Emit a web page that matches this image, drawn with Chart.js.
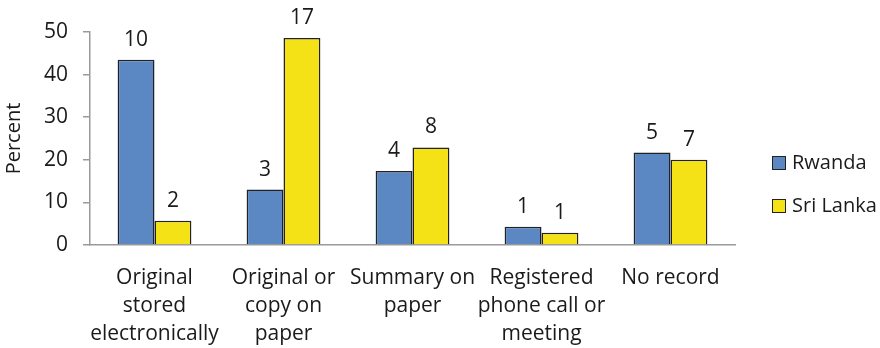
<!DOCTYPE html>
<html>
<head>
<meta charset="utf-8">
<script src="https://cdn.jsdelivr.net/npm/chart.js"></script>
<style>
  body { margin: 0; background: #fff; }
  #wrap { position: relative; width: 880px; height: 348px; }
  .legend { position: absolute; left: 772px; top: 0; font-family: "Open Sans", sans-serif; font-size: 20px; color: #1a1a1a; }
  .legend div { position: absolute; left: 0; white-space: nowrap; height: 24px; line-height: 24px; padding-left: 20px; }
  .legend span { position: absolute; left: 0; top: 6px; width: 12px; height: 12px; border: 1.5px solid #222; }
</style>
</head>
<body>
<div id="wrap">
  <canvas id="chart" width="880" height="348"></canvas>
  <div class="legend">
    <div style="top:150px"><span style="background:#5b88c2"></span>Rwanda</div>
    <div style="top:193px"><span style="background:#f5e216"></span>Sri Lanka</div>
  </div>
</div>
<script>
// categories and values
const categories = [
  ['Original', 'stored', 'electronically'],
  ['Original or', 'copy on', 'paper'],
  ['Summary on', 'paper'],
  ['Registered', 'phone call or', 'meeting'],
  ['No record']
];
const rwandaPct = [43.5, 13.0, 17.4, 4.3, 21.7];
const sriLankaPct = [5.7, 48.6, 22.9, 2.9, 20.0];
const rwandaCount = [10, 3, 4, 1, 5];
const sriLankaCount = [2, 17, 8, 1, 7];
const yTicks = [0, 10, 20, 30, 40, 50];

const FONT = '"Open Sans", sans-serif';
const TEXT = '#1a1a1a';

// count labels above each bar
const countLabels = {
  id: 'countLabels',
  afterDatasetsDraw(chart) {
    const ctx = chart.ctx;
    const counts = [rwandaCount, sriLankaCount];
    ctx.save();
    ctx.font = '21px ' + FONT;
    ctx.fillStyle = TEXT;
    ctx.textAlign = 'center';
    ctx.textBaseline = 'alphabetic';
    chart.data.datasets.forEach((ds, i) => {
      chart.getDatasetMeta(i).data.forEach((bar, j) => {
        ctx.fillText(String(counts[i][j]), bar.x, bar.y - 14);
      });
    });
    ctx.restore();
  }
};

new Chart(document.getElementById('chart'), {
  type: 'bar',
  data: {
    labels: categories,
    datasets: [
      { label: 'Rwanda', data: rwandaPct, backgroundColor: '#5b88c2', borderColor: '#222', borderWidth: 1.5 },
      { label: 'Sri Lanka', data: sriLankaPct, backgroundColor: '#f5e216', borderColor: '#222', borderWidth: 1.5 }
    ]
  },
  options: {
    responsive: false,
    animation: false,
    events: [],
    layout: { padding: { top: 32, right: 145, left: 0, bottom: 0 } },
    datasets: { bar: { barPercentage: 1, categoryPercentage: 0.572 } },
    plugins: { legend: { display: false }, tooltip: { enabled: false } },
    scales: {
      x: {
        grid: { display: false, drawTicks: false },
        border: { color: '#9a9a9a', width: 1.5 },
        ticks: { color: TEXT, font: { family: FONT, size: 21, lineHeight: 1.33 }, padding: 19, maxRotation: 0, autoSkip: false },
        afterFit(scale) { scale.height = 103; }
      },
      y: {
        min: 0, max: 50,
        afterBuildTicks(scale) { scale.ticks = yTicks.map(v => ({ value: v })); },
        grid: { drawOnChartArea: false, tickLength: 7, color: '#9a9a9a', lineWidth: 1.5 },
        border: { color: '#9a9a9a', width: 1.5 },
        ticks: { color: TEXT, font: { family: FONT, size: 21 }, padding: 15 },
        title: { display: true, text: 'Percent', color: TEXT, font: { family: FONT, size: 20 }, padding: 2 },
        afterFit(scale) { scale.width = 90; }
      }
    }
  },
  plugins: [countLabels]
});
</script>
</body>
</html>
